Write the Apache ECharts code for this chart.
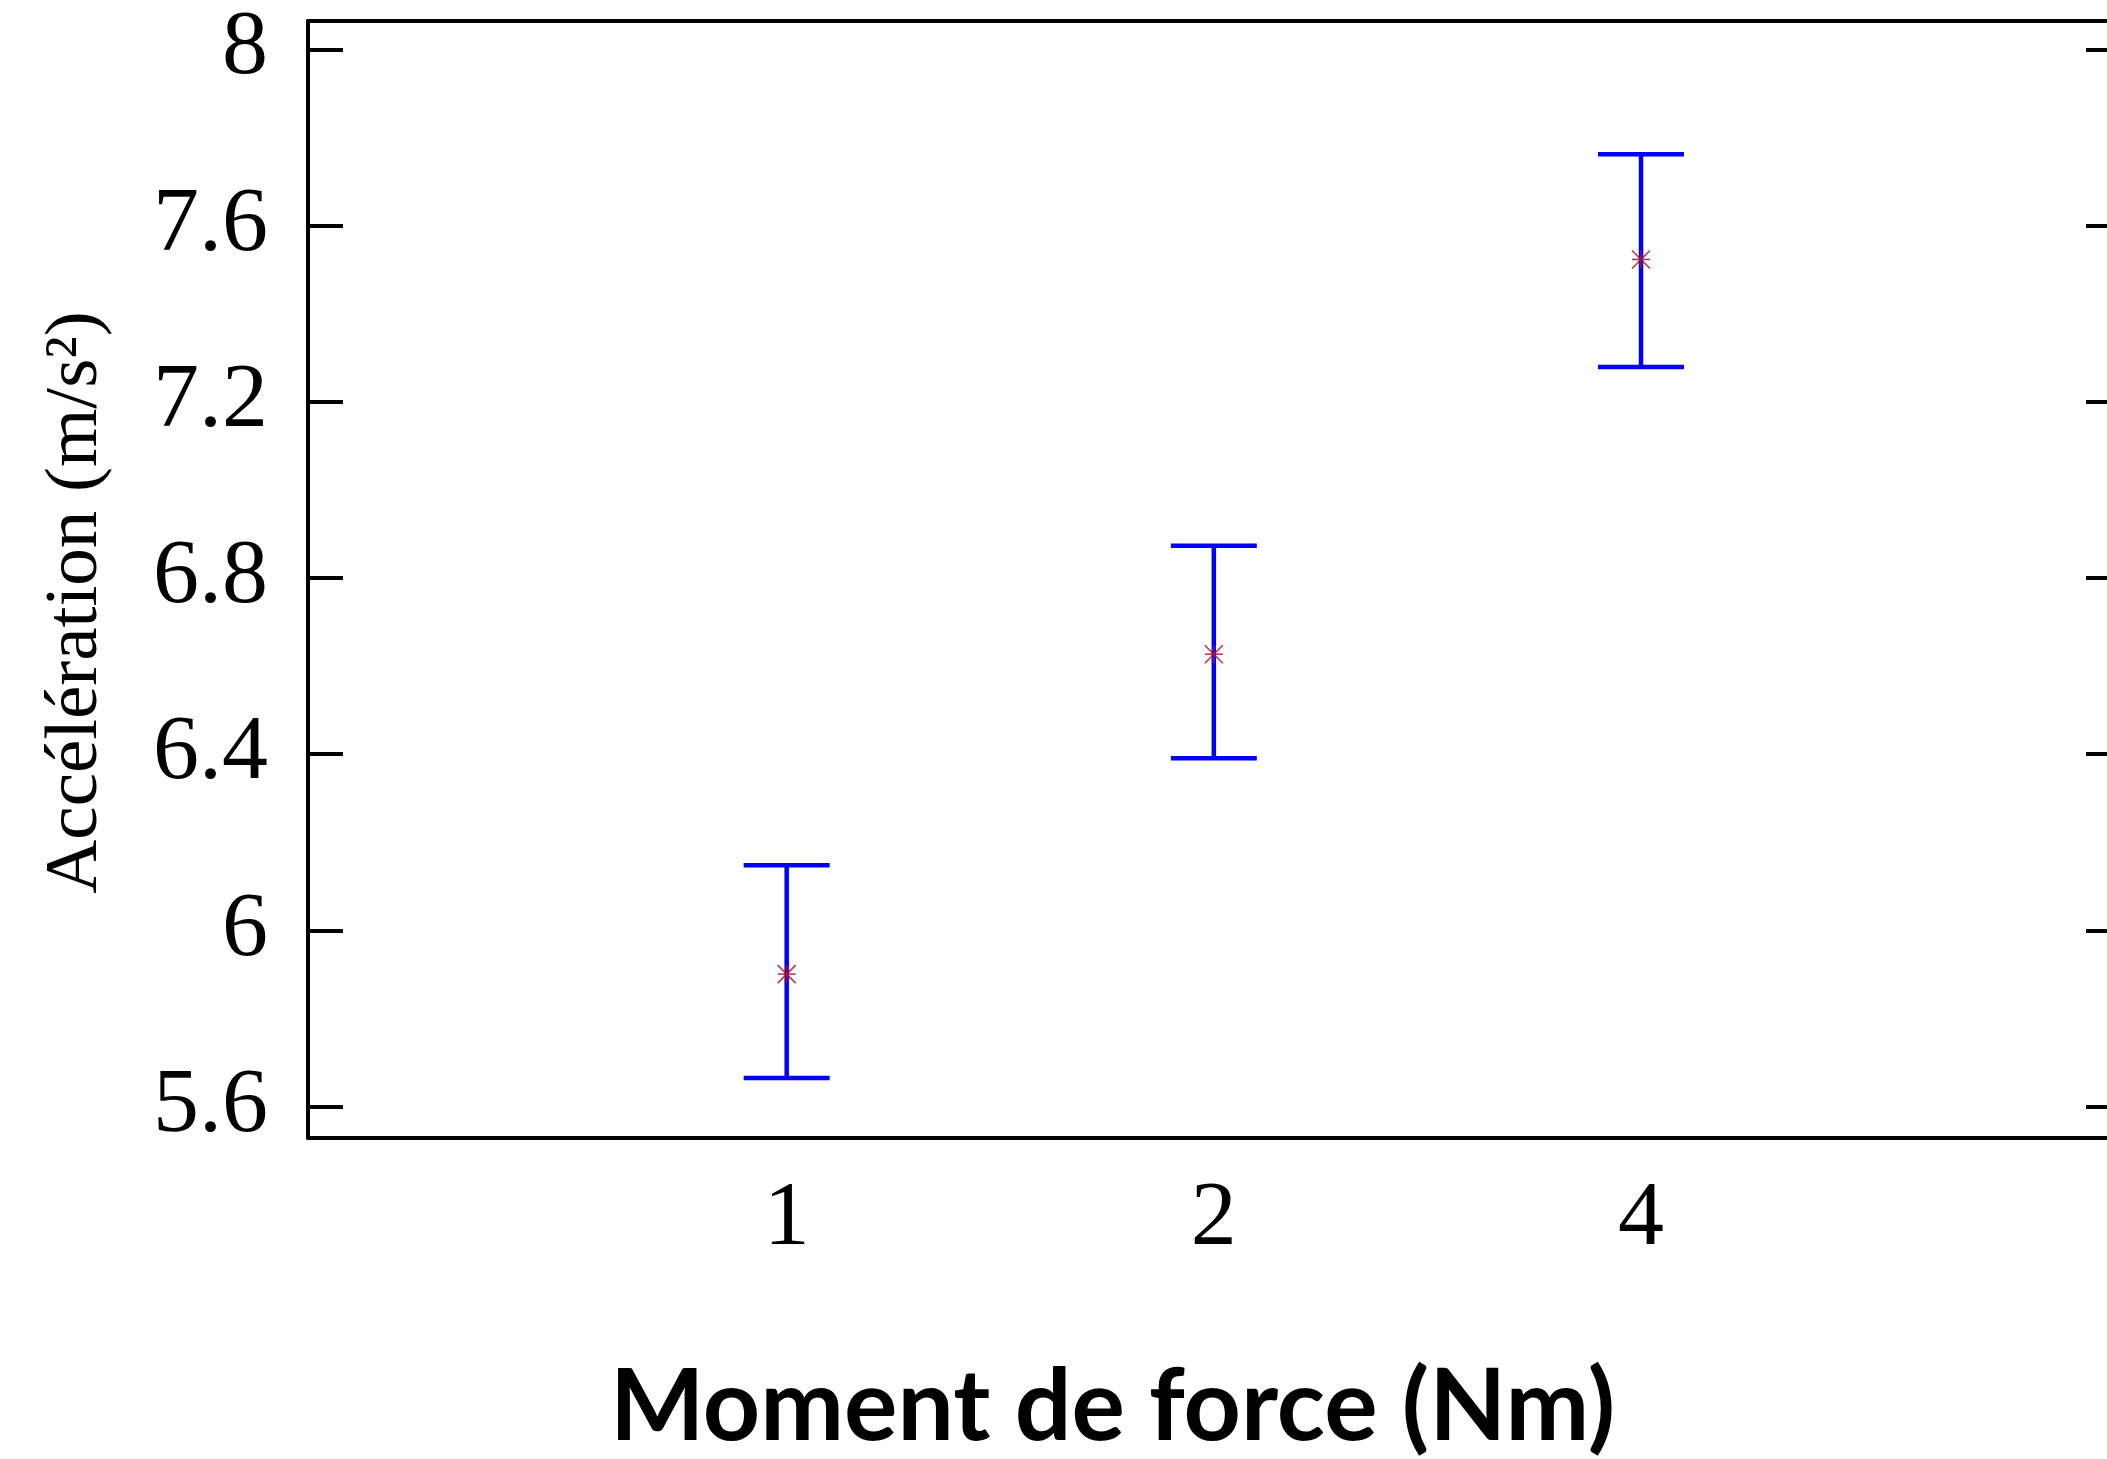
<!DOCTYPE html>
<html>
<head>
<meta charset="utf-8">
<script src="https://cdn.jsdelivr.net/npm/echarts@6/dist/echarts.min.js"></script>
<style>
html,body{margin:0;padding:0;background:#fff;}
#chart{width:2107px;height:1459px;}
</style>
</head>
<body>
<div id="chart"></div>
<script>
// Data
const categories = ['1', '2', '4'];          // Moment de force (Nm)
const means = [5.901, 6.627, 7.523];          // Accélération (m/s²)
const lower = [5.665, 6.391, 7.279];
const upper = [6.148, 6.873, 7.762];
const yTicks = [5.6, 6, 6.4, 6.8, 7.2, 7.6, 8];
const yTickLabels = ['5.6', '6', '6.4', '6.8', '7.2', '7.6', '8'];

const positions = categories.map((c, i) => i + 1);
const errData = categories.map((c, i) => [positions[i], lower[i], upper[i]]);
const meanData = categories.map((c, i) => [positions[i], means[i]]);

const chart = echarts.init(document.getElementById('chart'));
const serif = '"Liberation Serif", "DejaVu Serif", serif';
const X_MIN = -0.1206, X_MAX = 4.091;
const Y_MIN = 5.529, Y_MAX = 8.0642;

const option = {
  backgroundColor: '#ffffff',
  animation: false,
  grid: { left: 308, top: 21, right: 0, bottom: 321, containLabel: false, outerBoundsMode: 'none', show: false },
  xAxis: [{
    type: 'value', min: X_MIN, max: X_MAX,
    position: 'bottom',
    name: 'Moment de force (Nm)', nameLocation: 'middle', nameGap: 220,
    nameTextStyle: { fontFamily: 'Lato, "Open Sans", sans-serif', fontWeight: 'bold', fontSize: 100, color: '#000',
                     padding: [0, 190, 0, 0] },
    axisLine: { show: true, onZero: false, lineStyle: { color: '#000', width: 4 } },
    axisTick: { show: false },
    splitLine: { show: false },
    axisLabel: {
      customValues: positions,
      formatter: v => categories[Math.round(v) - 1],
      fontFamily: serif, fontSize: 92, color: '#000', margin: 36
    }
  }, {
    type: 'value', min: X_MIN, max: X_MAX, position: 'top',
    axisLine: { show: true, onZero: false, lineStyle: { color: '#000', width: 4 } },
    axisTick: { show: false }, axisLabel: { show: false }, splitLine: { show: false }
  }],
  yAxis: [{
    type: 'value', min: Y_MIN, max: Y_MAX, position: 'left',
    name: 'Accélération (m/s²)', nameLocation: 'middle', nameGap: 194, nameRotate: 90,
    nameTextStyle: { fontFamily: serif, fontSize: 75, color: '#000', padding: [0, 46, 0, 0] },
    axisLine: { show: true, onZero: false, lineStyle: { color: '#000', width: 4 } },
    axisTick: { show: true, inside: true, length: 35, customValues: yTicks, lineStyle: { color: '#000', width: 4 } },
    splitLine: { show: false },
    axisLabel: {
      customValues: yTicks,
      formatter: v => yTickLabels[yTicks.indexOf(v)] ?? String(v),
      fontFamily: serif, fontSize: 92, color: '#000', margin: 40
    }
  }, {
    type: 'value', min: Y_MIN, max: Y_MAX, position: 'right',
    axisLine: { show: false, onZero: false },
    axisTick: { show: true, inside: true, length: 21, customValues: yTicks, lineStyle: { color: '#000', width: 4 } },
    splitLine: { show: false },
    axisLabel: { show: false }
  }],
  series: [
    {
      type: 'custom',
      name: 'error',
      xAxisIndex: 0, yAxisIndex: 0,
      data: errData,
      clip: false,
      renderItem: function (params, api) {
        const x = api.value(0);
        const lo = api.coord([x, api.value(1)]);
        const hi = api.coord([x, api.value(2)]);
        const hw = 43;
        const style = { stroke: '#0000ff', lineWidth: 4.5, fill: null };
        return {
          type: 'group',
          children: [
            { type: 'line', shape: { x1: lo[0], y1: lo[1], x2: hi[0], y2: hi[1] }, style: style },
            { type: 'line', shape: { x1: lo[0] - hw, y1: lo[1], x2: lo[0] + hw, y2: lo[1] }, style: style },
            { type: 'line', shape: { x1: hi[0] - hw, y1: hi[1], x2: hi[0] + hw, y2: hi[1] }, style: style }
          ]
        };
      }
    },
    {
      type: 'custom',
      name: 'mean',
      xAxisIndex: 0, yAxisIndex: 0,
      data: meanData,
      renderItem: function (params, api) {
        const p = api.coord([api.value(0), api.value(1)]);
        const r = 9;
        const style = { stroke: 'rgba(170,20,50,0.85)', lineWidth: 1.6, fill: null };
        return {
          type: 'group',
          children: [
            { type: 'line', shape: { x1: p[0] - r, y1: p[1] - r, x2: p[0] + r, y2: p[1] + r }, style: style },
            { type: 'line', shape: { x1: p[0] - r, y1: p[1] + r, x2: p[0] + r, y2: p[1] - r }, style: style },
            { type: 'line', shape: { x1: p[0], y1: p[1] - r, x2: p[0], y2: p[1] + r }, style: style },
            { type: 'line', shape: { x1: p[0] - r, y1: p[1], x2: p[0] + r, y2: p[1] }, style: style }
          ]
        };
      }
    }
  ]
};
chart.setOption(option);
</script>
</body>
</html>
